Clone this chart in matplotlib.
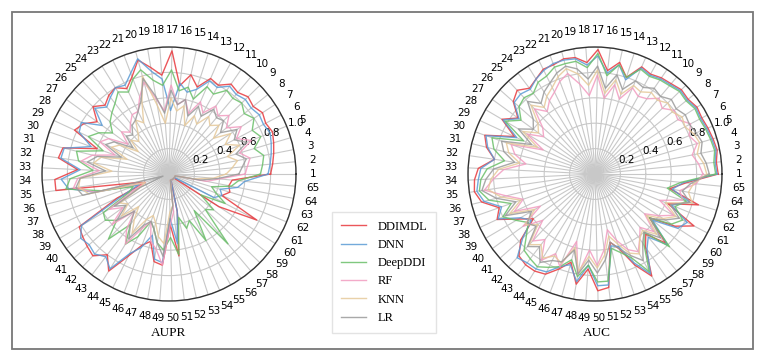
import numpy as np
import matplotlib
matplotlib.use('Agg')
import matplotlib.pyplot as plt
from matplotlib.patches import Rectangle

# event categories 1..65
categories = [str(i) for i in range(1, 66)]
methods = ['DDIMDL', 'DNN', 'DeepDDI', 'RF', 'KNN', 'LR']
colors = ['#e8383d', '#5b9bd5', '#6abf69', '#f29cc0', '#e6c99a', '#9a9a9a']

# AUPR per event (rough)
aupr_ddimdl = [0.80, 0.82, 0.84, 0.86, 0.88, 0.86, 0.88, 0.85, 0.87, 0.84,
               0.86, 0.80, 0.82, 0.72, 0.80, 0.70, 0.97, 0.78, 0.85, 0.93,
               0.82, 0.75, 0.80, 0.78, 0.74, 0.80, 0.70, 0.78, 0.82, 0.60,
               0.86, 0.88, 0.72, 0.90, 0.90, 0.30, 0.20, 0.45, 0.82, 0.84,
               0.86, 0.88, 0.80, 0.90, 0.72, 0.60, 0.55, 0.70, 0.72, 0.40,
               0.65, 0.30, 0.05, 0.05, 0.05, 0.05, 0.05, 0.05, 0.05, 0.47,
               0.78, 0.45, 0.50, 0.48, 0.50]
aupr_dnn = [0.78, 0.80, 0.82, 0.84, 0.86, 0.84, 0.85, 0.83, 0.84, 0.82,
            0.84, 0.78, 0.80, 0.70, 0.66, 0.72, 0.50, 0.75, 0.82, 0.94,
            0.85, 0.78, 0.80, 0.76, 0.72, 0.78, 0.65, 0.80, 0.78, 0.65,
            0.85, 0.86, 0.70, 0.85, 0.80, 0.60, 0.25, 0.40, 0.80, 0.86,
            0.84, 0.86, 0.82, 0.88, 0.70, 0.62, 0.50, 0.68, 0.70, 0.35,
            0.55, 0.30, 0.05, 0.05, 0.05, 0.05, 0.05, 0.05, 0.05, 0.05,
            0.40, 0.45, 0.42, 0.55, 0.60]
aupr_deepddi = [0.72, 0.74, 0.76, 0.70, 0.78, 0.74, 0.80, 0.76, 0.80, 0.78,
                0.80, 0.72, 0.75, 0.62, 0.70, 0.66, 0.82, 0.70, 0.75, 0.85,
                0.80, 0.72, 0.76, 0.70, 0.66, 0.62, 0.55, 0.64, 0.70, 0.55,
                0.75, 0.72, 0.60, 0.78, 0.82, 0.55, 0.30, 0.35, 0.60, 0.62,
                0.55, 0.70, 0.50, 0.65, 0.55, 0.40, 0.45, 0.55, 0.60, 0.50,
                0.64, 0.35, 0.45, 0.40, 0.60, 0.35, 0.72, 0.40, 0.45, 0.30,
                0.50, 0.40, 0.35, 0.50, 0.55]
aupr_rf = [0.60, 0.62, 0.65, 0.58, 0.70, 0.60, 0.68, 0.58, 0.66, 0.60,
           0.65, 0.55, 0.62, 0.50, 0.60, 0.55, 0.70, 0.50, 0.60, 0.75,
           0.65, 0.55, 0.55, 0.50, 0.45, 0.50, 0.40, 0.55, 0.60, 0.45,
           0.62, 0.70, 0.55, 0.72, 0.76, 0.60, 0.20, 0.30, 0.55, 0.45,
           0.60, 0.40, 0.55, 0.65, 0.48, 0.40, 0.55, 0.60, 0.72, 0.40,
           0.30, 0.05, 0.05, 0.05, 0.05, 0.05, 0.05, 0.05, 0.05, 0.05,
           0.05, 0.05, 0.05, 0.30, 0.40]
aupr_knn = [0.45, 0.50, 0.55, 0.48, 0.60, 0.50, 0.58, 0.45, 0.55, 0.50,
            0.55, 0.45, 0.50, 0.40, 0.55, 0.50, 0.60, 0.40, 0.55, 0.80,
            0.60, 0.45, 0.50, 0.40, 0.35, 0.40, 0.30, 0.45, 0.50, 0.35,
            0.55, 0.60, 0.45, 0.70, 0.72, 0.65, 0.20, 0.25, 0.45, 0.40,
            0.50, 0.35, 0.45, 0.55, 0.40, 0.35, 0.40, 0.50, 0.55, 0.30,
            0.25, 0.05, 0.05, 0.05, 0.05, 0.05, 0.05, 0.05, 0.05, 0.05,
            0.05, 0.05, 0.05, 0.20, 0.35]
aupr_lr = [0.55, 0.58, 0.62, 0.55, 0.66, 0.58, 0.64, 0.52, 0.60, 0.58,
           0.62, 0.52, 0.58, 0.48, 0.60, 0.55, 0.66, 0.48, 0.62, 0.78,
           0.62, 0.55, 0.50, 0.48, 0.42, 0.45, 0.35, 0.50, 0.55, 0.40,
           0.58, 0.65, 0.50, 0.70, 0.74, 0.70, 0.05, 0.25, 0.50, 0.42,
           0.55, 0.40, 0.50, 0.60, 0.45, 0.40, 0.45, 0.55, 0.65, 0.35,
           0.25, 0.05, 0.05, 0.05, 0.05, 0.05, 0.05, 0.05, 0.05, 0.05,
           0.05, 0.05, 0.05, 0.25, 0.38]

# AUC per event
auc_ddimdl = [0.97, 0.96, 0.98, 0.97, 0.96, 0.95, 0.96, 0.94, 0.95, 0.93,
              0.92, 0.90, 0.92, 0.80, 0.90, 0.82, 0.98, 0.88, 0.93, 0.94,
              0.92, 0.92, 0.88, 0.85, 0.90, 0.86, 0.75, 0.85, 0.70, 0.92,
              0.88, 0.80, 0.92, 0.95, 0.96, 0.92, 0.80, 0.85, 0.70, 0.60,
              0.78, 0.88, 0.90, 0.90, 0.88, 0.80, 0.72, 0.88, 0.75, 0.92,
              0.90, 0.55, 0.62, 0.78, 0.92, 0.70, 0.62, 0.78, 0.55, 0.75,
              0.88, 0.62, 0.85, 0.60, 0.72]
auc_dnn = [0.96, 0.95, 0.97, 0.96, 0.95, 0.94, 0.95, 0.93, 0.94, 0.92,
           0.91, 0.89, 0.91, 0.78, 0.88, 0.80, 0.93, 0.86, 0.92, 0.93,
           0.93, 0.91, 0.88, 0.84, 0.86, 0.85, 0.74, 0.84, 0.68, 0.91,
           0.87, 0.80, 0.90, 0.92, 0.94, 0.90, 0.78, 0.84, 0.68, 0.62,
           0.76, 0.90, 0.88, 0.88, 0.86, 0.78, 0.74, 0.86, 0.72, 0.88,
           0.88, 0.58, 0.60, 0.76, 0.90, 0.72, 0.65, 0.80, 0.58, 0.78,
           0.82, 0.65, 0.78, 0.62, 0.70]
auc_deepddi = [0.95, 0.94, 0.96, 0.95, 0.94, 0.93, 0.94, 0.92, 0.93, 0.91,
               0.90, 0.88, 0.90, 0.80, 0.88, 0.78, 0.95, 0.84, 0.90, 0.90,
               0.90, 0.86, 0.85, 0.80, 0.82, 0.80, 0.72, 0.82, 0.62, 0.86,
               0.82, 0.72, 0.85, 0.90, 0.92, 0.86, 0.70, 0.80, 0.72, 0.65,
               0.72, 0.82, 0.84, 0.86, 0.82, 0.78, 0.70, 0.82, 0.72, 0.85,
               0.85, 0.60, 0.65, 0.72, 0.88, 0.68, 0.60, 0.82, 0.55, 0.72,
               0.78, 0.68, 0.75, 0.58, 0.68]
auc_rf = [0.85, 0.82, 0.78, 0.84, 0.80, 0.85, 0.78, 0.80, 0.74, 0.78,
          0.72, 0.70, 0.74, 0.62, 0.72, 0.60, 0.78, 0.62, 0.72, 0.82,
          0.78, 0.72, 0.68, 0.62, 0.70, 0.55, 0.50, 0.62, 0.45, 0.70,
          0.65, 0.55, 0.72, 0.80, 0.88, 0.72, 0.60, 0.70, 0.50, 0.70,
          0.55, 0.72, 0.65, 0.80, 0.70, 0.78, 0.55, 0.80, 0.60, 0.72,
          0.60, 0.45, 0.55, 0.65, 0.70, 0.62, 0.55, 0.65, 0.50, 0.60,
          0.70, 0.55, 0.72, 0.68, 0.80]
auc_knn = [0.88, 0.86, 0.82, 0.86, 0.84, 0.80, 0.82, 0.78, 0.80, 0.76,
           0.78, 0.74, 0.76, 0.66, 0.76, 0.64, 0.82, 0.70, 0.80, 0.86,
           0.82, 0.76, 0.72, 0.66, 0.74, 0.60, 0.55, 0.66, 0.50, 0.74,
           0.70, 0.60, 0.76, 0.82, 0.85, 0.76, 0.62, 0.74, 0.55, 0.68,
           0.60, 0.76, 0.70, 0.78, 0.72, 0.75, 0.60, 0.78, 0.65, 0.74,
           0.64, 0.50, 0.58, 0.68, 0.72, 0.62, 0.58, 0.68, 0.52, 0.64,
           0.72, 0.60, 0.80, 0.75, 0.78]
auc_lr = [0.90, 0.88, 0.85, 0.88, 0.86, 0.84, 0.85, 0.82, 0.84, 0.80,
          0.82, 0.78, 0.80, 0.70, 0.80, 0.68, 0.85, 0.75, 0.84, 0.88,
          0.85, 0.80, 0.76, 0.70, 0.78, 0.65, 0.60, 0.70, 0.55, 0.78,
          0.74, 0.64, 0.80, 0.86, 0.90, 0.80, 0.66, 0.78, 0.58, 0.66,
          0.62, 0.78, 0.72, 0.82, 0.76, 0.74, 0.62, 0.80, 0.68, 0.78,
          0.68, 0.55, 0.62, 0.70, 0.78, 0.66, 0.60, 0.72, 0.56, 0.66,
          0.75, 0.64, 0.78, 0.70, 0.76]

aupr = [aupr_ddimdl, aupr_dnn, aupr_deepddi, aupr_rf, aupr_knn, aupr_lr]
auc = [auc_ddimdl, auc_dnn, auc_deepddi, auc_rf, auc_knn, auc_lr]

n = len(categories)
angles = np.linspace(0, 2 * np.pi, n, endpoint=False)
ang_closed = np.concatenate([angles, angles[:1]])

fig = plt.figure(figsize=(7.68, 3.64), dpi=100)

# outer frame
fig.patches.append(Rectangle((12 / 768, 1 - 349 / 364), 741 / 768, 337 / 364,
                             transform=fig.transFigure, fill=False,
                             edgecolor='#777777', lw=1.3))


def radar(ax, data, title, xlab):
    for vals, c, m in zip(data, colors, methods):
        v = np.concatenate([vals, vals[:1]])
        ax.plot(ang_closed, v, color=c, lw=1.0, alpha=0.85, label=m)
    ax.set_ylim(0, 1.0)
    ax.set_xticks(angles)
    ax.set_xticklabels(categories, fontsize=7.5)
    ax.set_yticks([0.2, 0.4, 0.6, 0.8, 1.0])
    ax.set_yticklabels(['0.2', '0.4', '0.6', '0.8', '1.0'], fontsize=7.5)
    ax.set_rlabel_position(21)
    ax.tick_params(axis='x', pad=2)
    ax.grid(True, color='#c8c8c8', lw=0.8)
    ax.spines['polar'].set_color('#333333')
    ax.spines['polar'].set_linewidth(1.0)
    fig.text(xlab, 0.085, title, ha='center', va='center',
             family='Liberation Serif', fontsize=9.5)


ax1 = fig.add_axes([42 / 768, 1 - 301 / 364, 254 / 768, 254 / 364], projection='polar')
radar(ax1, aupr, 'AUPR', 0.219)
ax2 = fig.add_axes([468 / 768, 1 - 301 / 364, 254 / 768, 254 / 364], projection='polar')
radar(ax2, auc, 'AUC', 0.777)

h, l = ax1.get_legend_handles_labels()
fig.legend(h, l, loc='lower left', bbox_to_anchor=(326 / 768, 25 / 364),
           prop={'family': 'Liberation Serif', 'size': 9}, frameon=True,
           handlelength=2.0, handletextpad=0.9, labelspacing=0.5,
           borderpad=0.7, fancybox=False, edgecolor='#dddddd')

plt.savefig('out.png', dpi=100)
